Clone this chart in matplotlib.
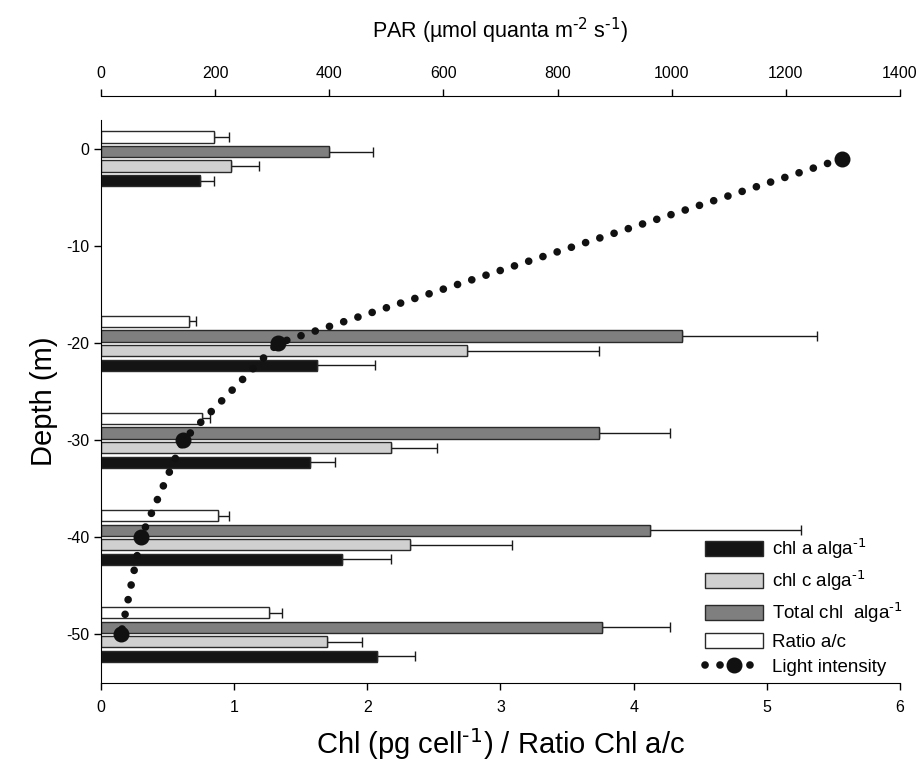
import matplotlib
matplotlib.use('Agg')
import matplotlib.pyplot as plt
import numpy as np
from matplotlib.patches import Patch
from matplotlib.lines import Line2D

plt.rcParams['font.family'] = ['Liberation Sans', 'DejaVu Sans']
plt.rcParams['axes.unicode_minus'] = False
plt.rcParams['mathtext.default'] = 'regular'

# sampling depths (m) and bar values
depths = [-1, -20, -30, -40, -50]
chl_a = [0.74, 1.62, 1.57, 1.81, 2.07]
chl_a_err = [0.11, 0.44, 0.19, 0.37, 0.29]
chl_c = [0.98, 2.75, 2.18, 2.32, 1.70]
chl_c_err = [0.21, 0.99, 0.34, 0.77, 0.26]
total_chl = [1.71, 4.36, 3.74, 4.12, 3.76]
total_err = [0.33, 1.02, 0.53, 1.14, 0.51]
ratio_ac = [0.85, 0.66, 0.76, 0.88, 1.26]
ratio_err = [0.11, 0.05, 0.06, 0.08, 0.10]

# light profile
par_depth = [-1, -20, -30, -40, -50]
par = [1298, 310, 144, 70, 35]

fig = plt.figure(figsize=(9.23, 7.71), dpi=100)
ax = fig.add_axes([0.1094, 0.1141, 0.8657, 0.7303])

d = np.array(depths)
h = 1.15
series = [
    (ratio_ac, ratio_err, 2.25, 'white'),
    (total_chl, total_err, 0.75, '#7f7f7f'),
    (chl_c, chl_c_err, -0.75, '#d0d0d0'),
    (chl_a, chl_a_err, -2.25, '#141414'),
]
for vals, err, off, col in series:
    ax.barh(d + off, vals, height=h, color=col, edgecolor='#2a2a2a', linewidth=1.0, zorder=2)
    ax.errorbar(vals, d + off, xerr=[np.zeros(len(vals)), err], fmt='none',
                ecolor='#1a1a1a', elinewidth=1.0, capsize=3.8, capthick=1.0, zorder=1)

ax.set_xlim(0, 6)
ax.set_ylim(-55, 3)
ax.set_yticks([0, -10, -20, -30, -40, -50])
ax.set_xticks(range(7))
ax.spines['top'].set_visible(False)
ax.spines['right'].set_visible(False)
ax.tick_params(direction='out', length=5, width=1, labelsize=11.5)
ax.tick_params(axis='x', pad=7)
sup = '$^{\\text{-1}}$'
ax.set_xlabel('Chl (pg cell' + sup + ') / Ratio Chl a/c', fontsize=21, labelpad=8)
ax.set_ylabel('Depth (m)', fontsize=21, labelpad=6)

# PAR axis on top
ax2 = ax.twiny()
ax2.set_xlim(0, 1400)
ax2.set_xticks(range(0, 1401, 200))
for s in ['left', 'right', 'bottom']:
    ax2.spines[s].set_visible(False)
ax2.spines['top'].set_position(('outward', 17))
ax2.tick_params(direction='out', length=5, width=1, labelsize=11.5, pad=6)
ax2.set_xlabel('PAR (\u00b5mol quanta m$^{\\text{-2}}$ s' + sup + ')', fontsize=15.5, labelpad=20)

ax2.plot(par, par_depth, color='#111111', linewidth=5.5, linestyle=(0, (0.01, 1.95)),
         dash_capstyle='round', zorder=3)
ax2.plot(par, par_depth, 'o', color='#111111', markersize=10.5, zorder=4)

handles = [
    Patch(facecolor='#141414', edgecolor='#2a2a2a'),
    Patch(facecolor='#d0d0d0', edgecolor='#2a2a2a'),
    Patch(facecolor='#7f7f7f', edgecolor='#2a2a2a'),
    Patch(facecolor='white', edgecolor='#2a2a2a'),
    Line2D([], [], color='#111111', linewidth=5.5, linestyle=(0, (0.01, 1.95)),
           dash_capstyle='round', marker='o', markersize=10.5),
]
labels = ['chl a alga' + sup, 'chl c alga' + sup,
          'Total chl  alga' + sup, 'Ratio a/c', 'Light intensity']
ax2.legend(handles, labels, loc='lower right', bbox_to_anchor=(1.017, -0.008),
           frameon=False, fontsize=13.5, handlelength=3.1, handleheight=0.85,
           labelspacing=0.4, handletextpad=0.45, borderaxespad=0.2, numpoints=1)

fig.savefig('out.png', dpi=100)
